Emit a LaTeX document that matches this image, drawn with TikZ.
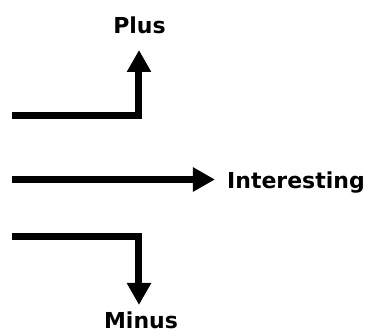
\documentclass[tikz,border=0pt]{standalone}
\usepackage{fontspec}
\setmainfont{DejaVu Sans}
\usetikzlibrary{arrows.meta}
\begin{document}
\begin{tikzpicture}[x=1pt,y=-1pt,
  lbl/.style={inner sep=0pt, font=\fontsize{22}{24}\selectfont\bfseries},
  thick arrow/.style={line width=7pt, -{Triangle[length=22pt,width=23pt]}}]
\useasboundingbox (0,0) rectangle (368,334);
\node[lbl, anchor=base] (plus) at (139.5,34) {Plus};
\node[lbl, anchor=base west] (int) at (227,189) {Interesting};
\node[lbl, anchor=base] (minus) at (141,329) {Minus};
\coordinate (s1) at (12,116);
\coordinate (t1) at (139,50);
\coordinate (s2) at (12,179.5);
\coordinate (s3) at (12,237);
\coordinate (t3) at (139,305);
\draw[thick arrow] (s1) -| (t1);
\draw[thick arrow, shorten >=12pt] (s2) -- (s2 -| int.west);
\draw[thick arrow] (s3) -| (t3);
\end{tikzpicture}
\end{document}
